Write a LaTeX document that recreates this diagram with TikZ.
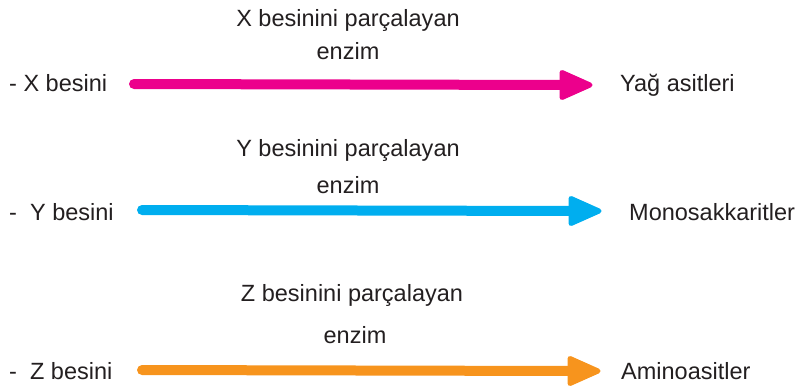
\documentclass[tikz,border=0pt]{standalone}
\usepackage{fontspec}
\setmainfont{Liberation Sans}
\usetikzlibrary{calc}
\definecolor{ink}{HTML}{231F20}
\definecolor{pinkc}{HTML}{EC008C}
\definecolor{cyanc}{HTML}{00AEEF}
\definecolor{orangec}{HTML}{F7941D}
\tikzset{
  lbl/.style={font=\fontsize{23.5}{28}\selectfont, text=ink, inner sep=0pt, anchor=base west},
  ttl/.style={font=\fontsize{23.5}{28}\selectfont, text=ink, inner sep=0pt, anchor=base},
  shaft/.style={line width=10pt, line cap=round},
  headtri/.style={line width=5pt, line join=round},
}
% filled arrow head ending at the given tip coordinate
\newcommand{\headto}[2]{%
  \filldraw[headtri, #1] ($(#2)+(-28,-12.5)$) -- (#2) -- ($(#2)+(-28,12.5)$) -- cycle;}
\begin{document}
\begin{tikzpicture}[x=1pt, y=-1pt]
  \useasboundingbox (0,0) rectangle (799,389);

  % row 1: X
  \node[ttl] (xt1) at (348,26) {X besinini parçalayan};
  \node[ttl] (xt2) at (348,59) {enzim};
  \node[lbl] (xsrc) at (9,91) {- X besini};
  \node[lbl] (xdst) at (620,91) {Yağ asitleri};
  \coordinate (xa) at (134,84);
  \coordinate (xb) at (590,85);
  \draw[shaft, pinkc] (xa) -- ($(xb)+(-20,0)$);
  \headto{pinkc}{xb}

  % row 2: Y
  \node[ttl] (yt1) at (348,156) {Y besinini parçalayan};
  \node[ttl] (yt2) at (348,193) {enzim};
  \node[lbl] (ysrc) at (9,220) {-\ \ Y besini};
  \node[lbl] (ydst) at (629,220) {Monosakkaritler};
  \coordinate (ya) at (142,210);
  \coordinate (yb) at (599,211);
  \draw[shaft, cyanc] (ya) -- ($(yb)+(-20,0)$);
  \headto{cyanc}{yb}

  % row 3: Z
  \node[ttl] (zt1) at (352,301) {Z besinini parçalayan};
  \node[ttl] (zt2) at (355,343) {enzim};
  \node[lbl] (zsrc) at (9,379) {-\ \ Z besini};
  \node[lbl] (zdst) at (621,379) {Aminoasitler};
  \coordinate (za) at (142,370);
  \coordinate (zb) at (598,371);
  \draw[shaft, orangec] (za) -- ($(zb)+(-20,0)$);
  \headto{orangec}{zb}
\end{tikzpicture}
\end{document}
